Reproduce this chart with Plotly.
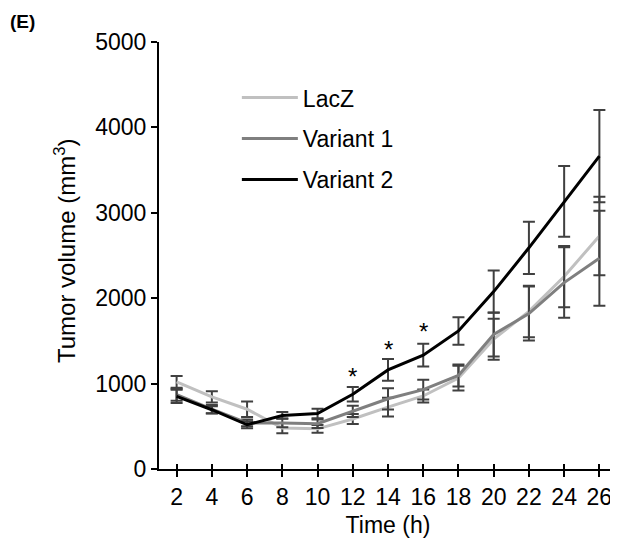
import plotly.graph_objects as go

time_h = [2, 4, 6, 8, 10, 12, 14, 16, 18, 20, 22, 24, 26]
lacz = [1020, 845, 700, 480, 470, 585, 725, 855, 1065, 1520, 1845, 2253, 2729]
lacz_err = [70, 65, 90, 60, 45, 59, 110, 75, 145, 240, 301, 359, 460]
variant1 = [870, 700, 540, 540, 530, 674, 822, 930, 1095, 1575, 1820, 2183, 2468]
variant1_err = [70, 50, 40, 50, 50, 66, 125, 115, 129, 258, 316, 413, 557]
variant2 = [850, 694, 518, 627, 650, 875, 1160, 1333, 1616, 2077, 2590, 3134, 3664]
variant2_err = [78, 40, 40, 40, 55, 85, 127, 133, 162, 246, 306, 413, 539]
series_names = ["LacZ", "Variant 1", "Variant 2"]
star_x = [12, 14, 16]
star_y = [1080, 1400, 1610]
y_ticks = [0, 1000, 2000, 3000, 4000, 5000]

FONT = "Liberation Sans, Arial, sans-serif"
colors = ["#c0c0c0", "#7f7f7f", "#000000"]
err_color = "#404040"

# the page body has an 8px default margin, so the figure is 8px smaller
W, H = 610, 543
ML, MR, MT, MB = 151, 1, 34, 82
PW = W - ML - MR
PH = H - MT - MB

fig = go.Figure()
for name, vals, errs, col in zip(series_names, [lacz, variant1, variant2],
                                 [lacz_err, variant1_err, variant2_err], colors):
    fig.add_trace(go.Scatter(
        x=time_h, y=vals, name=name, mode="lines",
        line=dict(color=col, width=3),
        legendgroup=name,
        error_y=dict(type="data", array=errs, visible=True,
                     color=err_color, thickness=2, width=6),
    ))

# invisible trace for the overlay axis that draws inward tick marks
fig.add_trace(go.Scatter(x=time_h, y=[None] * len(time_h), xaxis="x2",
                         showlegend=False, hoverinfo="skip"))

for sx, sy in zip(star_x, star_y):
    fig.add_annotation(x=sx, y=sy, text="*", showarrow=False,
                       font=dict(family=FONT, size=24, color="black"),
                       xanchor="center", yanchor="middle")

fig.add_annotation(x=-ML / PW, y=1 + 33 / PH, xref="paper", yref="paper",
                   text="<b>(E)</b>", showarrow=False,
                   xanchor="left", yanchor="top",
                   font=dict(family=FONT, size=19, color="black"))

fig.add_annotation(x=-(ML - 57) / PW, y=(PH - (251 - 8 - MT)) / PH,
                   xref="paper", yref="paper",
                   text="Tumor volume (mm<sup>3</sup>)", textangle=-90,
                   showarrow=False, xanchor="center", yanchor="middle",
                   font=dict(family=FONT, size=24, color="black"))

fig.update_layout(
    width=W, height=H,
    margin=dict(l=ML, r=MR, t=MT, b=MB, pad=0, autoexpand=False),
    paper_bgcolor="white", plot_bgcolor="white",
    font=dict(family=FONT, size=23, color="black"),
    showlegend=True,
    legend=dict(x=0.17, y=0.92, xanchor="left", yanchor="top",
                bgcolor="rgba(0,0,0,0)", font=dict(size=23),
                traceorder="grouped", tracegroupgap=8, itemwidth=56),
    xaxis=dict(range=[1, 27], tickmode="array", tickvals=time_h,
               ticktext=[str(t) for t in time_h],
               showline=True, linecolor="black", linewidth=2,
               ticks="outside", ticklen=6, tickwidth=1.5, tickcolor="black",
               showgrid=False, zeroline=False,
               title=dict(text="Time (h)", font=dict(size=23), standoff=8)),
    xaxis2=dict(range=[1, 27], overlaying="x", anchor="y", side="bottom",
                tickmode="array", tickvals=time_h, showticklabels=False,
                ticks="inside", ticklen=5, tickwidth=1.5, tickcolor="black",
                showline=False, showgrid=False, zeroline=False),
    yaxis=dict(range=[0, 5000], tickmode="array", tickvals=y_ticks,
               showline=True, linecolor="black", linewidth=2,
               ticks="outside", ticklen=6, tickwidth=1.5, tickcolor="black",
               showgrid=False, zeroline=False),
)

fig.write_html("out.html")
